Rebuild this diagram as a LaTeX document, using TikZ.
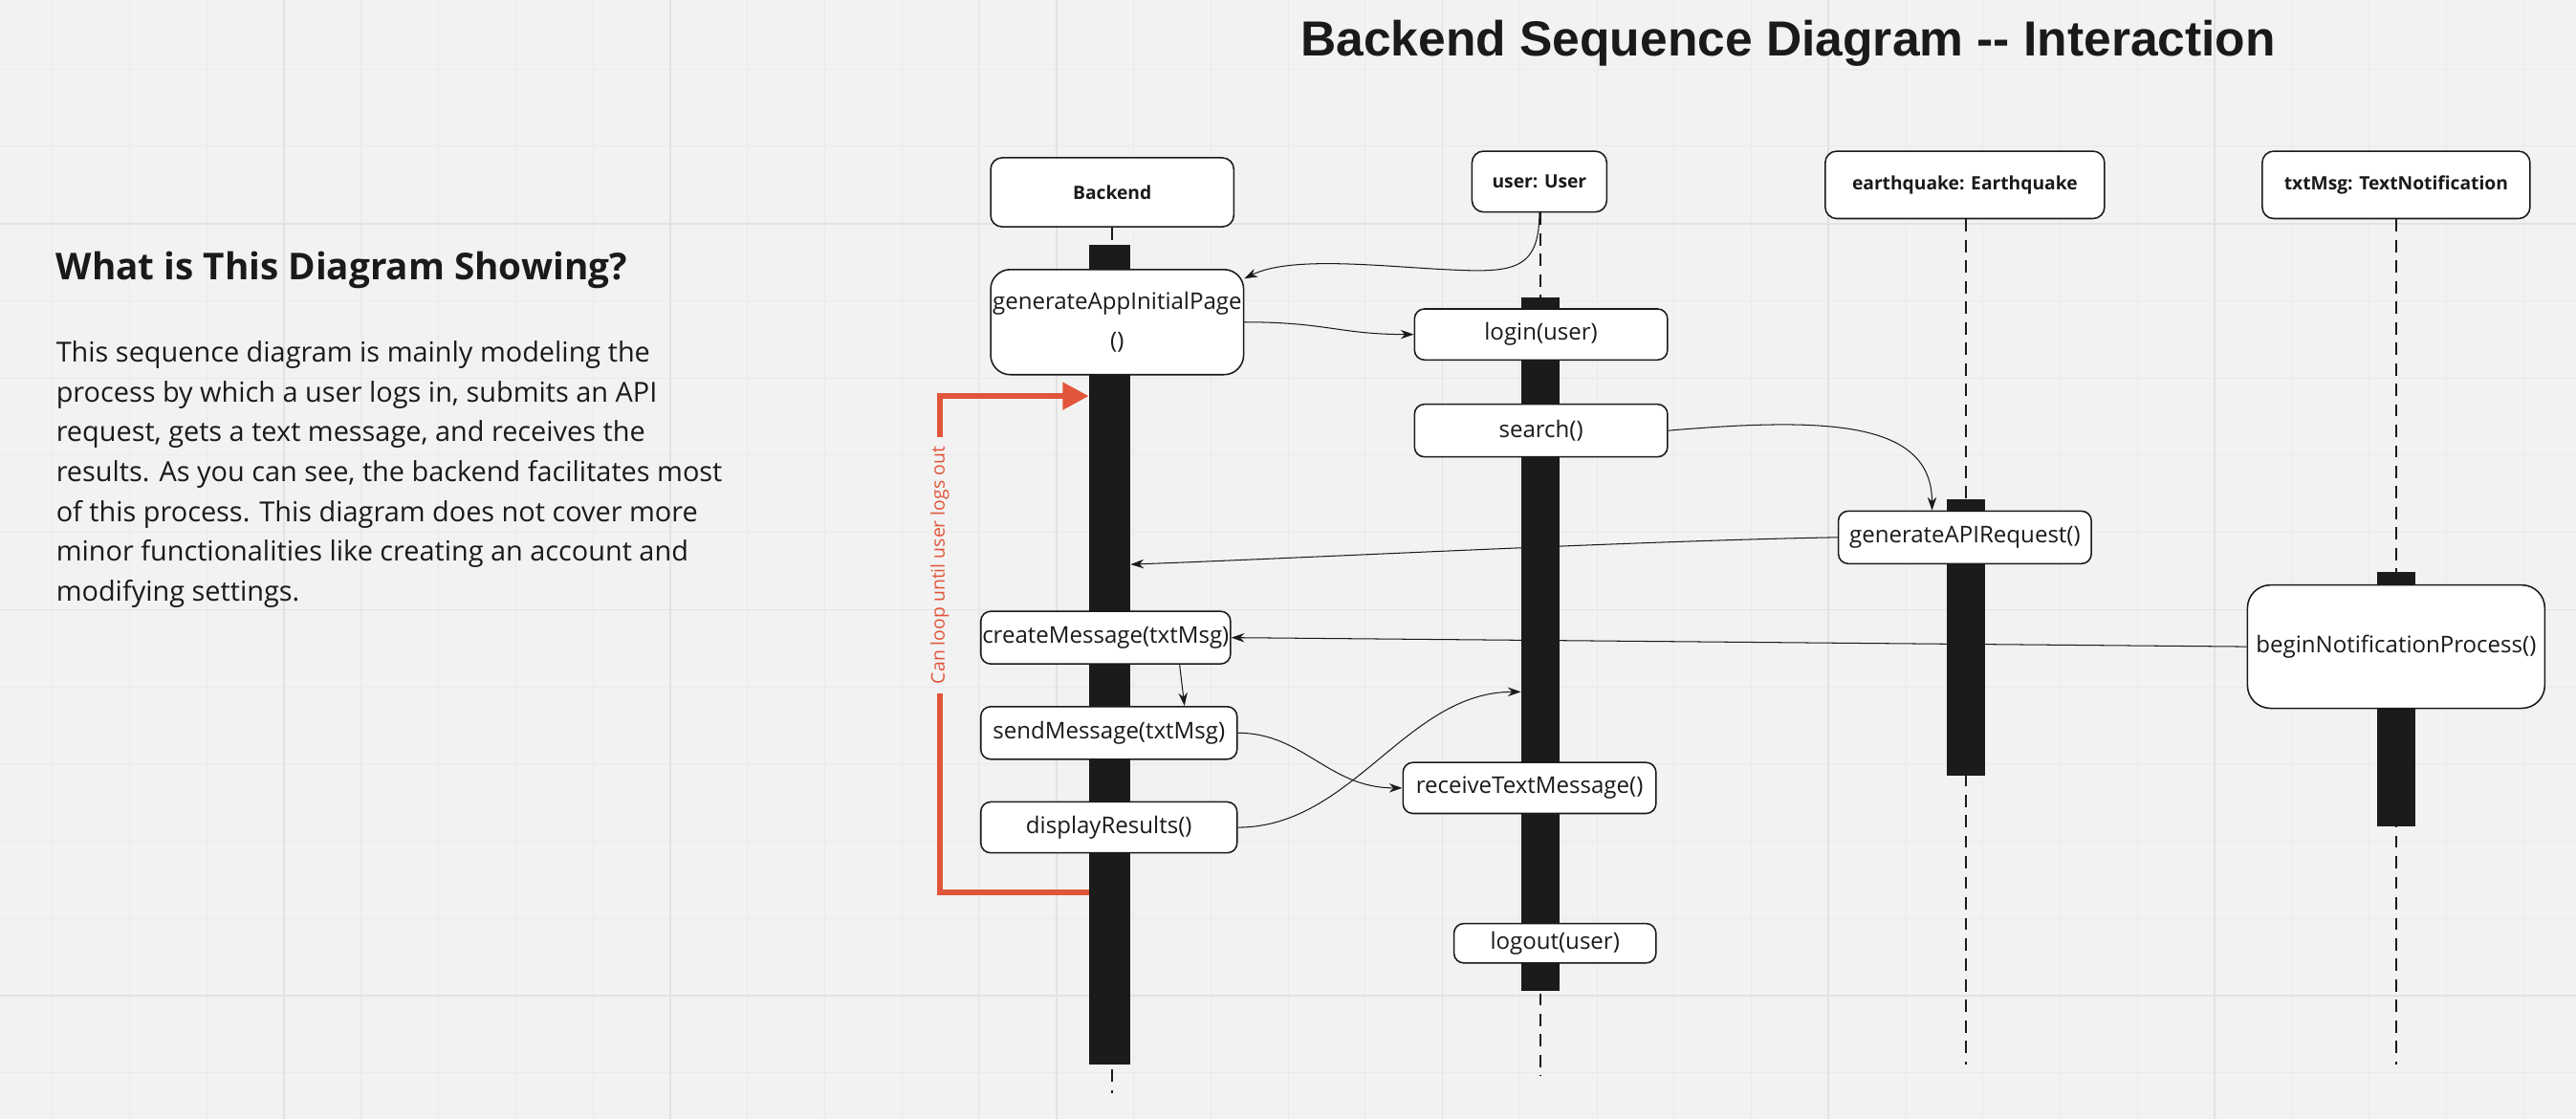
\documentclass[tikz,border=0pt]{standalone}
\usepackage{fontspec}
\setmainfont{Open Sans}
\newfontfamily\titlefont{Liberation Sans}
\usetikzlibrary{arrows.meta,calc}
\definecolor{bg}{HTML}{F2F2F2}
\definecolor{gridminor}{HTML}{EAEAEA}
\definecolor{gridmajor}{HTML}{E2E2E2}
\definecolor{barc}{HTML}{1B1B1B}
\definecolor{loopred}{HTML}{E1553A}
\definecolor{ink}{HTML}{1A1A1A}
\begin{document}
\begin{tikzpicture}[x=1pt,y=-1pt,
  header/.style={draw=ink, line width=0.9pt, fill=white, rounded corners=7pt, inner sep=0pt, font=\bfseries\fontsize{11.2}{14}\selectfont, text=ink},
  msgbox/.style={draw=ink, line width=0.9pt, fill=white, rounded corners=6pt, inner sep=0pt, align=center, font=\fontsize{14}{24}\selectfont, text=ink},
  actbar/.style={fill=barc, draw=none, inner sep=0pt},
  lifeline/.style={draw=ink, line width=1.3pt, dash pattern=on 7.5pt off 5pt},
  msgarrow/.style={draw=ink, line width=0.6pt, -{Stealth[length=8pt,width=5.5pt]}},
  redline/.style={draw=loopred, line width=3.6pt},
]
\useasboundingbox (0,0) rectangle (1568,681);
\fill[bg] (0,0) rectangle (1568,681);
% grid
\foreach \gx in {0,...,33} {\draw[gridminor, line width=0.6pt] ({32+47*\gx},0) -- ({32+47*\gx},681);}
\foreach \gy in {0,...,13} {\draw[gridminor, line width=0.6pt] (0,{42+47*\gy}) -- (1568,{42+47*\gy});}
\foreach \gx in {173,408,643,878,1113,1348} {\draw[gridmajor, line width=1pt] (\gx,0) -- (\gx,681);}
\foreach \gy in {136,371,606} {\draw[gridmajor, line width=1pt] (0,\gy) -- (1568,\gy);}

% texts
\node[anchor=base, inner sep=0pt, text=ink, font=\titlefont\bfseries\fontsize{30}{36}\selectfont] (title) at (1088.5,34) {Backend Sequence Diagram -- Interaction};
\node[anchor=base west, inner sep=0pt, text=ink, font=\bfseries\fontsize{22.5}{27}\selectfont] (heading) at (34,170.4) {What is This Diagram Showing?};
\node[anchor=north west, inner sep=0pt, align=left, text=ink, font=\fontsize{16.8}{24.2}\selectfont] (para) at (34,207.5) {This sequence diagram is mainly modeling the\\process by which a user logs in, submits an API\\request, gets a text message, and receives the\\results. As you can see, the backend facilitates most\\of this process. This diagram does not cover more\\minor functionalities like creating an account and\\modifying settings.};

% headers
\node[header, minimum width=148pt, minimum height=42pt] (bh) at (677,117) {Backend};
\node[header, minimum width=82pt, minimum height=37pt] (uh) at (937,110.5) {user: User};
\node[header, minimum width=170pt, minimum height=41pt] (eh) at (1196,112.5) {earthquake: Earthquake};
\node[header, minimum width=163pt, minimum height=41pt] (th) at (1458.5,112.5) {txtMsg: TextNotification};

% lifelines
\coordinate (bend) at (677,665);
\coordinate (uend) at (937.5,655);
\coordinate (eend) at (1196.5,648);
\coordinate (tend) at (1458.5,648);
\draw[lifeline] (bh.south) -- (bend);
\draw[lifeline] (uh.south -| uend) -- (uend);
\draw[lifeline] (eh.south -| eend) -- (eend);
\draw[lifeline] (th.south) -- (tend);

% activation bars
\node[actbar, minimum width=25pt, minimum height=499pt] (bbar) at (675.5,398.5) {};
\node[actbar, minimum width=23pt, minimum height=422pt] (ubar) at (937.5,392) {};
\node[actbar, minimum width=23pt, minimum height=168pt] (ebar) at (1196.5,388) {};
\node[actbar, minimum width=23pt, minimum height=155pt] (tbar) at (1458.5,425.5) {};

% message boxes
\node[msgbox, rounded corners=12pt, minimum width=154pt, minimum height=64pt] (gen) at (680,196) {generateAppInitialPage\\()};
\node[msgbox, minimum width=154pt, minimum height=31pt] (login) at (938,203.5) {login(user)};
\node[msgbox, minimum width=154pt, minimum height=32pt] (search) at (938,262) {search()};
\node[msgbox, minimum width=154pt, minimum height=32pt] (apireq) at (1196,327) {generateAPIRequest()};
\node[msgbox, minimum width=152pt, minimum height=32pt] (create) at (673,388) {createMessage(txtMsg)};
\node[msgbox, minimum width=156pt, minimum height=32pt] (send) at (675,446) {sendMessage(txtMsg)};
\node[msgbox, minimum width=156pt, minimum height=31pt] (display) at (675,503.5) {displayResults()};
\node[msgbox, minimum width=154pt, minimum height=31pt] (receive) at (931,479.5) {receiveTextMessage()};
\node[msgbox, minimum width=123pt, minimum height=24pt] (logout) at (946.5,574) {logout(user)};
\node[msgbox, rounded corners=14pt, minimum width=181pt, minimum height=75pt] (begin) at (1458.5,393.5) {beginNotificationProcess()};

% messages
\draw[msgarrow] (uh.south) .. controls +(0,36) and +(40,2) .. (880,164) .. controls +(-40,-2) and +(28,-14) .. ([yshift=-6pt]gen.north east);
\draw[msgarrow] (gen.east) .. controls +(50,0) and +(-45,0) .. (login.west);
\draw[msgarrow] (search.east) .. controls +(95,-8) and +(0,-55) .. ([xshift=-20pt]apireq.north);
\draw[msgarrow] (apireq.west) .. controls +(-120,2) and +(110,-4) .. (bbar.east |- apireq.south);
\draw[msgarrow] (begin.west) -- (create.east);
\draw[msgarrow] ([xshift=45pt]create.south) -- ([xshift=46pt]send.north);
\draw[msgarrow] (send.east) .. controls +(40,0) and +(-45,0) .. (receive.west);
\draw[msgarrow] (display.east) .. controls +(70,0) and +(-70,0) .. ([yshift=-29pt]ubar.west);

% loop
\coordinate (loopA) at (572,543);
\coordinate (loopB) at (572,422);
\coordinate (loopC) at (572,266);
\draw[redline] (bbar.west |- loopA) -- (loopA) -- (loopB);
\draw[redline, -{Triangle[length=16pt,width=16pt]}] (loopC) |- ([yshift=157.5pt]bbar.west);
\node[rotate=90, text=loopred, inner sep=0pt, font=\fontsize{11.3}{13}\selectfont] (looplbl) at (572,344) {Can loop until user logs out};
\end{tikzpicture}
\end{document}
